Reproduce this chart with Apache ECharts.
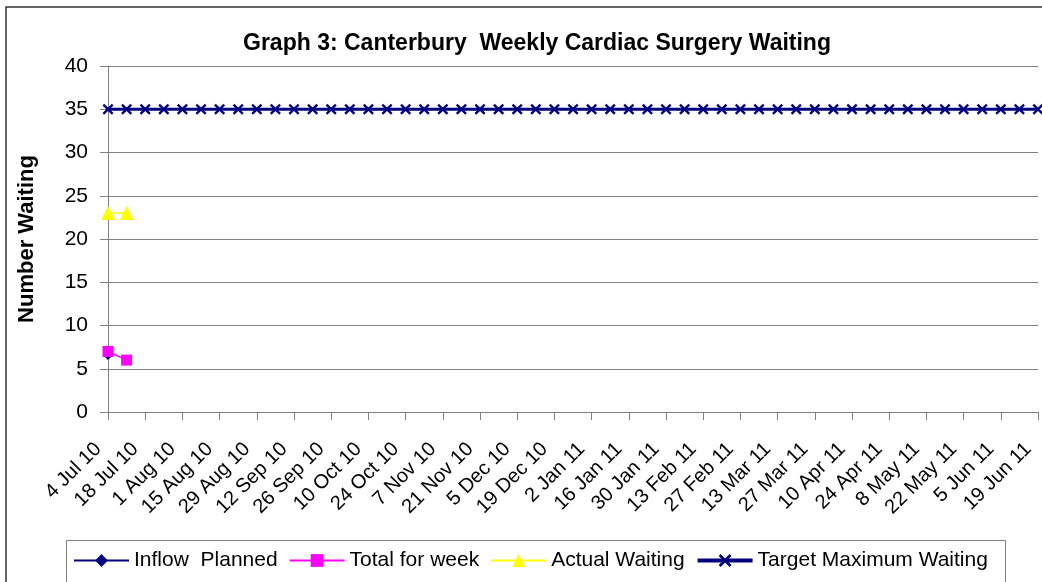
<!DOCTYPE html>
<html lang="en">
  <head>
    <meta charset="UTF-8" />
    <title>Graph 3: Canterbury Weekly Cardiac Surgery Waiting</title>
    <script src="https://cdn.jsdelivr.net/npm/echarts@6/dist/echarts.min.js"></script>
    <style>
      html, body { margin: 0; padding: 0; background: #fff; overflow: hidden; }
      #main { width: 1042px; height: 582px; }
    </style>
  </head>
  <body>
    <div id="main"></div>

    <script>
      const weeks = [
        '4 Jul 10', '11 Jul 10', '18 Jul 10', '25 Jul 10', '1 Aug 10', '8 Aug 10',
        '15 Aug 10', '22 Aug 10', '29 Aug 10', '5 Sep 10', '12 Sep 10', '19 Sep 10',
        '26 Sep 10', '3 Oct 10', '10 Oct 10', '17 Oct 10', '24 Oct 10', '31 Oct 10',
        '7 Nov 10', '14 Nov 10', '21 Nov 10', '28 Nov 10', '5 Dec 10', '12 Dec 10',
        '19 Dec 10', '26 Dec 10', '2 Jan 11', '9 Jan 11', '16 Jan 11', '23 Jan 11',
        '30 Jan 11', '6 Feb 11', '13 Feb 11', '20 Feb 11', '27 Feb 11', '6 Mar 11',
        '13 Mar 11', '20 Mar 11', '27 Mar 11', '3 Apr 11', '10 Apr 11', '17 Apr 11',
        '24 Apr 11', '1 May 11', '8 May 11', '15 May 11', '22 May 11', '29 May 11',
        '5 Jun 11', '12 Jun 11', '19 Jun 11'
      ];

      const inflowPlanned = [6.6];
      const totalForWeek = [7, 6];
      const actualWaiting = [23, 23];
      const targetMaxWaiting = [
        35, 35, 35, 35, 35, 35, 35, 35, 35, 35, 35, 35, 35, 35, 35, 35, 35,
        35, 35, 35, 35, 35, 35, 35, 35, 35, 35, 35, 35, 35, 35, 35, 35, 35,
        35, 35, 35, 35, 35, 35, 35, 35, 35, 35, 35, 35, 35, 35, 35, 35, 35
      ];

      const font = 'Arial, "Liberation Sans", sans-serif';
      // X shaped marker, like the Excel one
      const crossSymbol = 'path://M0,1.5L1.5,0L5,3.5L8.5,0L10,1.5L6.5,5L10,8.5L8.5,10L5,6.5L1.5,10L0,8.5L3.5,5Z';

      const options = {
        animation: false,
        backgroundColor: '#fff',
        title: {
          text: 'Graph 3: Canterbury  Weekly Cardiac Surgery Waiting',
          left: 532,
          textAlign: 'center',
          top: 27,
          textStyle: { fontFamily: font, fontSize: 23, fontWeight: 'bold', color: '#000' },
        },
        graphic: [
          {
            type: 'rect',
            shape: { x: 6, y: 7, width: 1100, height: 700 },
            style: { fill: 'none', stroke: '#333', lineWidth: 1.5 },
            silent: true,
          },
          {
            type: 'rect',
            shape: { x: 66.5, y: 540.5, width: 939, height: 80 },
            style: { fill: 'none', stroke: '#808080', lineWidth: 1 },
            silent: true,
          },
        ],
        legend: {
          left: 68,
          top: 545,
          itemWidth: 55,
          itemHeight: 16,
          itemGap: 11,
          textStyle: { fontFamily: font, fontSize: 21, color: '#000' },
          data: [
            { name: 'Inflow  Planned' },
            { name: 'Total for week' },
            { name: 'Actual Waiting' },
            { name: 'Target Maximum Waiting', lineStyle: { width: 4 } },
          ],
        },
        grid: { left: 108, right: 4, top: 66, bottom: 170, containLabel: false },
        xAxis: {
          type: 'category',
          data: weeks,
          boundaryGap: false,
          axisLine: { lineStyle: { color: '#808080', width: 1 } },
          axisTick: { show: true, interval: 1, length: 8, lineStyle: { color: '#808080' } },
          axisLabel: {
            interval: 1,
            rotate: 45,
            margin: 24,
            padding: [0, 14, 0, 0],
            fontFamily: font,
            fontSize: 20,
            color: '#000',
          },
          splitLine: { show: false },
        },
        yAxis: {
          type: 'value',
          min: 0,
          max: 40,
          interval: 5,
          name: 'Number Waiting',
          nameLocation: 'middle',
          nameGap: 70,
          nameTextStyle: { fontFamily: font, fontSize: 22, fontWeight: 'bold', color: '#000' },
          axisLine: { show: true, lineStyle: { color: '#808080', width: 1 } },
          axisTick: { show: true, length: 8, lineStyle: { color: '#808080' } },
          axisLabel: { fontFamily: font, fontSize: 21, color: '#000', margin: 20 },
          splitLine: { lineStyle: { color: '#808080', width: 1 } },
        },
        series: [
          {
            name: 'Inflow  Planned',
            type: 'line',
            data: inflowPlanned,
            showAllSymbol: true,
            symbol: 'diamond',
            symbolSize: 10,
            itemStyle: { color: '#000080' },
            lineStyle: { color: '#000080', width: 1.5 },
          },
          {
            name: 'Total for week',
            type: 'line',
            data: totalForWeek,
            showAllSymbol: true,
            symbol: 'rect',
            symbolSize: 11,
            itemStyle: { color: '#ff00ff' },
            lineStyle: { color: '#ff00ff', width: 1.5 },
          },
          {
            name: 'Actual Waiting',
            type: 'line',
            data: actualWaiting,
            showAllSymbol: true,
            symbol: 'triangle',
            symbolSize: 14,
            itemStyle: { color: '#ffff00' },
            lineStyle: { color: '#ffff00', width: 1.5 },
          },
          {
            name: 'Target Maximum Waiting',
            type: 'line',
            data: targetMaxWaiting,
            showAllSymbol: true,
            symbol: crossSymbol,
            symbolSize: 11,
            itemStyle: { color: '#000080' },
            lineStyle: { color: '#000080', width: 3 },
          },
        ],
      };

      var myChart = echarts.init(document.querySelector('#main'));
      myChart.setOption(options);
    </script>
  </body>
</html>
